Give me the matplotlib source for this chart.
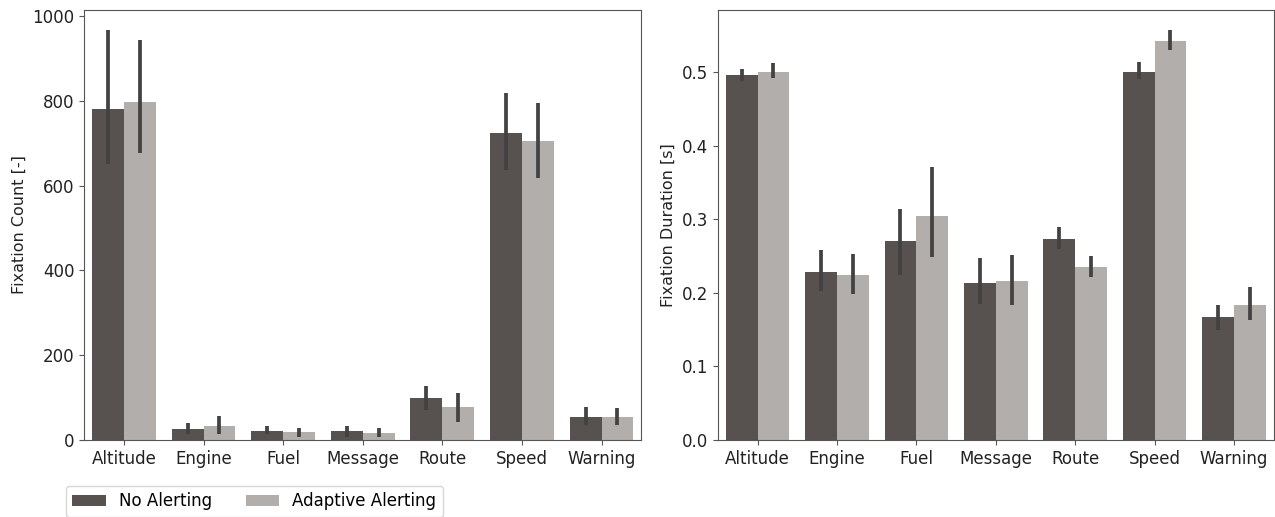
import numpy as np
import matplotlib
matplotlib.use("Agg")
import matplotlib.pyplot as plt

categories = ["Altitude", "Engine", "Fuel", "Message", "Route", "Speed", "Warning"]
groups = ["No Alerting", "Adaptive Alerting"]

# fixation count: mean, ci low, ci high
count_no = [782, 25, 22, 20, 98, 724, 55]
count_no_lo = [651, 14, 14, 8, 70, 638, 35]
count_no_hi = [967, 39, 33, 33, 127, 819, 77]
count_ad = [798, 33, 18, 16, 77, 705, 54]
count_ad_lo = [678, 14, 8, 6, 42, 617, 35]
count_ad_hi = [944, 56, 28, 28, 110, 796, 75]

# fixation duration: mean, ci low, ci high
dur_no = [0.496, 0.228, 0.270, 0.214, 0.273, 0.501, 0.167]
dur_no_lo = [0.488, 0.202, 0.225, 0.185, 0.260, 0.491, 0.149]
dur_no_hi = [0.505, 0.259, 0.314, 0.247, 0.289, 0.514, 0.184]
dur_ad = [0.500, 0.225, 0.305, 0.216, 0.235, 0.543, 0.184]
dur_ad_lo = [0.492, 0.199, 0.249, 0.184, 0.222, 0.530, 0.163]
dur_ad_hi = [0.512, 0.253, 0.371, 0.252, 0.250, 0.557, 0.208]

dark = '#575150'
light = '#b2aeac'
errc = '#424242'
spinec = '#555555'

def draw(ax, no, no_lo, no_hi, ad, ad_lo, ad_hi):
    x = np.arange(len(categories))
    w = 0.4
    series = [(no, no_lo, no_hi, dark, -w / 2), (ad, ad_lo, ad_hi, light, w / 2)]
    bars = []
    for (m, lo, hi, c, off), g in zip(series, groups):
        m = np.array(m)
        err = [m - np.array(lo), np.array(hi) - m]
        b = ax.bar(x + off, m, width=w, color=c, label=g)
        ax.errorbar(x + off, m, yerr=err, fmt='none', ecolor=errc, elinewidth=2.7, capsize=0)
        bars.append(b)
    ax.set_xticks(x)
    ax.set_xticklabels(categories)
    ax.set_xlim(-0.5, len(categories) - 0.5)
    ax.tick_params(labelsize=12, color=spinec, labelcolor='#222222')
    for s in ax.spines.values():
        s.set_color(spinec)
    return bars

fig = plt.figure(figsize=(12.75, 5.17), dpi=100)
ax1 = fig.add_axes([0.066, 0.149, 0.437, 0.832])
ax2 = fig.add_axes([0.563, 0.149, 0.436, 0.832])

bars = draw(ax1, count_no, count_no_lo, count_no_hi, count_ad, count_ad_lo, count_ad_hi)
ax1.set_ylim(0, 1015)
ax1.set_ylabel('Fixation Count [-]', fontsize=11.5, color='#222222')

draw(ax2, dur_no, dur_no_lo, dur_no_hi, dur_ad, dur_ad_lo, dur_ad_hi)
ax2.set_ylim(0, 0.585)
ax2.set_ylabel('Fixation Duration [s]', fontsize=11.5, color='#222222')

leg = fig.legend(bars, groups, loc='center left', bbox_to_anchor=(0.045, 0.03), ncol=2,
                 fontsize=12, columnspacing=2.0, frameon=True)

fig.savefig('out.png', dpi=100)
